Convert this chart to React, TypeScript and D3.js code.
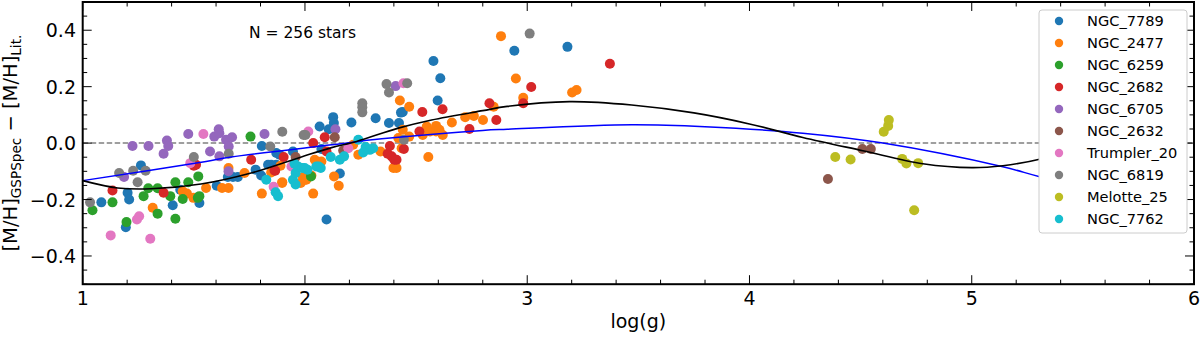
import React from "react";
import * as d3 from "d3";

// ---------- data ----------
const clusterNames = [
  "NGC_7789", "NGC_2477", "NGC_6259", "NGC_2682", "NGC_6705",
  "NGC_2632", "Trumpler_20", "NGC_6819", "Melotte_25", "NGC_7762",
];
const clusterColors = [
  "#1f77b4", "#ff7f0e", "#2ca02c", "#d62728", "#9467bd",
  "#8c564b", "#e377c2", "#7f7f7f", "#bcbd22", "#17becf",
];

// [log(g), [M/H]_GSPSpec - [M/H]_Lit]
const NGC_7789 = [
  [1.262, -0.079], [1.202, -0.176], [1.209, -0.2], [1.084, -0.21], [1.439, -0.165],
  [1.405, -0.22], [1.525, -0.212], [1.194, -0.298], [1.603, -0.151], [1.653, -0.12],
  [1.676, -0.12], [1.698, -0.12], [1.778, -0.094], [1.803, -0.115], [1.806, -0.01],
  [1.834, -0.077], [1.848, -0.077], [1.871, -0.077], [1.871, -0.035], [1.886, -0.041],
  [1.946, -0.03], [2.066, 0.059], [2.107, 0.049], [2.127, 0.092], [2.13, 0.071],
  [2.209, 0.073], [2.318, 0.088], [2.378, 0.071], [2.423, 0.071], [2.432, 0.108],
  [2.44, 0.11], [2.074, -0.021], [2.157, -0.108], [2.097, -0.271], [2.578, 0.291],
  [2.609, 0.23], [2.597, 0.151], [2.942, 0.327], [3.181, 0.341],
];
const NGC_2477 = [
  [1.315, -0.229], [1.45, -0.171], [1.469, -0.179], [1.498, -0.194], [1.555, -0.159],
  [1.627, -0.159], [1.656, -0.159], [1.656, -0.088], [1.728, -0.106], [1.806, -0.179],
  [1.848, -0.104], [1.898, -0.139], [1.89, -0.08], [1.897, -0.141], [1.981, -0.141],
  [1.991, -0.12], [1.999, -0.13], [2.029, -0.115], [2.006, -0.13], [2.044, -0.059],
  [2.074, -0.065], [2.037, -0.179], [2.131, -0.118], [2.152, -0.151], [2.217, -0.006],
  [2.24, -0.041], [2.34, -0.03], [2.398, -0.088], [2.412, -0.088], [2.42, 0.018],
  [2.427, 0.151], [2.469, 0.129], [2.435, -0.018], [2.44, 0.047], [2.469, 0.023],
  [2.53, 0.029], [2.548, 0.059], [2.563, 0.041], [2.59, 0.061], [2.59, 0.041],
  [2.605, 0.047], [2.62, 0.029], [2.555, -0.049], [2.661, 0.073], [2.721, 0.092],
  [2.76, 0.096], [2.801, 0.082], [2.849, 0.129], [2.882, 0.379], [2.949, 0.229],
  [2.982, 0.161], [3.202, 0.179], [3.222, 0.188],
];
const NGC_6259 = [
  [1.044, -0.238], [1.134, -0.21], [1.274, -0.188], [1.295, -0.16], [1.337, -0.16],
  [1.394, -0.188], [1.417, -0.139], [1.475, -0.139], [1.52, -0.118], [1.45, -0.198],
  [1.518, -0.194], [1.525, -0.188], [1.337, -0.25], [1.197, -0.28], [1.417, -0.268],
  [1.755, 0.023], [2.027, -0.118],
];
const NGC_2682 = [
  [1.134, -0.168], [1.364, -0.176], [1.5, -0.08], [1.51, -0.077], [1.758, -0.059],
  [1.866, -0.098], [1.904, -0.049], [2.037, 0.0], [2.089, 0.021], [2.097, -0.03],
  [1.863, -0.097], [2.372, -0.038], [2.382, -0.01], [2.39, -0.047], [2.402, -0.059],
  [2.412, -0.059], [2.445, -0.021], [2.515, 0.041], [2.528, 0.11], [2.619, 0.12],
  [2.74, 0.05], [2.83, 0.141], [2.861, 0.082], [3.018, 0.199], [2.982, 0.141],
  [3.372, 0.281],
];
const NGC_6705 = [
  [1.224, -0.01], [1.296, -0.01], [1.379, 0.009], [1.385, -0.01], [1.364, -0.038],
  [1.475, 0.032], [1.186, -0.12], [1.573, -0.03], [1.592, 0.023], [1.612, 0.049],
  [1.615, 0.035], [1.645, 0.012], [1.672, 0.021], [1.657, -0.012], [1.615, -0.047],
  [1.656, -0.1], [1.818, 0.032], [2.137, 0.049], [2.408, 0.202],
];
const NGC_2632 = [
  [1.958, -0.049], [2.134, 0.021], [2.172, -0.026], [4.353, -0.127], [4.508, -0.021],
  [4.546, -0.021],
];
const Trumpler_20 = [
  [1.126, -0.327], [1.304, -0.339], [1.244, -0.271], [1.254, -0.259], [1.484, -0.071],
  [1.543, 0.032], [1.939, -0.083], [1.859, -0.155], [2.015, 0.041], [2.195, -0.018],
  [2.443, 0.212],
];
const NGC_6819 = [
  [1.033, -0.21], [1.164, -0.106], [1.227, -0.098], [1.283, -0.098], [1.247, -0.139],
  [1.5, -0.049], [1.657, -0.038], [1.844, -0.012], [1.898, 0.04], [1.994, 0.029],
  [2.002, 0.029], [2.258, 0.141], [2.258, 0.127], [2.258, 0.109], [2.367, 0.209],
  [2.378, 0.179], [2.46, 0.212], [2.445, 0.012], [3.011, 0.388],
];
const Melotte_25 = [
  [4.386, -0.049], [4.455, -0.058], [4.604, 0.04], [4.624, 0.061], [4.627, 0.082],
  [4.687, -0.056], [4.706, -0.072], [4.759, -0.071], [4.741, -0.238],
];
const NGC_7762 = [
  [1.826, -0.13], [1.868, -0.174], [1.879, -0.188], [1.946, -0.13], [1.958, -0.147],
  [1.958, -0.106], [1.953, -0.073], [1.969, -0.083], [1.988, -0.088], [2.011, -0.094],
  [1.999, -0.088], [2.051, -0.083], [2.071, -0.088], [2.062, -0.083], [2.116, -0.049],
  [2.157, -0.059], [2.176, -0.047], [2.24, 0.012], [2.273, -0.014], [2.292, -0.024],
  [2.307, -0.018], [2.262, -0.033],
];
const clusterData = [
  NGC_7789, NGC_2477, NGC_6259, NGC_2682, NGC_6705,
  NGC_2632, Trumpler_20, NGC_6819, Melotte_25, NGC_7762,
];

// fitted curves
const blackFit = [
  [1.0, -0.133], [1.157, -0.159], [1.307, -0.162], [1.532, -0.145], [1.758, -0.106],
  [1.984, -0.049], [2.12, -0.016], [2.232, 0.006], [2.42, 0.053], [2.57, 0.082],
  [2.8, 0.115], [2.91, 0.13], [3.19, 0.147], [3.47, 0.135], [3.75, 0.107],
  [4.0, 0.068], [4.24, 0.02], [4.51, -0.027], [4.78, -0.073], [5.0, -0.087],
  [5.14, -0.08], [5.31, -0.056], [5.5, -0.01], [5.7, 0.06], [5.88, 0.14],
];
const blueFit = [
  [1.0, -0.133], [1.555, -0.065], [1.668, -0.049], [2.12, -0.006], [2.345, 0.015],
  [2.8, 0.045], [2.91, 0.049], [3.47, 0.065], [3.8, 0.058], [4.24, 0.035],
  [4.6, 0.0], [5.14, -0.084], [5.31, -0.12], [5.88, -0.23],
];

const xMajor = [1, 2, 3, 4, 5, 6];
const yMajor = [-0.4, -0.2, 0.0, 0.2, 0.4];
const nLabel = "N = 256 stars";

// ---------- layout ----------
const W = 1200, H = 341;
const L = 82.7, R = 1194, T = 2, B = 284.2;
const FONT = "DejaVu Sans, sans-serif";

const x = d3.scaleLinear().domain([1, 6]).range([L, R]);
const y = d3.scaleLinear().domain([-0.5, 0.5]).range([B, T]);

const xMinor = d3.range(1, 6.0001, 0.2).filter((v) => Math.abs(v - Math.round(v)) > 1e-6);
const yMinor = d3.range(-0.5, 0.5001, 0.05).filter((v) => Math.abs(v * 5 - Math.round(v * 5)) > 1e-6);

const fmt = (v: number) => {
  const s = Math.abs(v).toFixed(1);
  return v < -1e-9 ? "\u2212" + s : s;
};

export default function App() {
  const line = d3
    .line<number[]>()
    .x((d) => x(d[0]))
    .y((d) => y(d[1]))
    .curve(d3.curveCatmullRom.alpha(0.5));

  const majLen = 9, minLen = 4.5;
  const legX = 1039, legY = 10, legW = 148, legH = 223;

  return (
    <svg
      width={W}
      height={H}
      style={{ position: "absolute", left: 0, top: 0, background: "#fff" }}
      fontFamily={FONT}
    >
      <defs>
        <clipPath id="plot">
          <rect x={L} y={T} width={R - L} height={B - T} />
        </clipPath>
      </defs>
      <rect x={0} y={0} width={W} height={H} fill="#fff" />

      <g clipPath="url(#plot)">
        <line x1={L} x2={R} y1={y(0)} y2={y(0)} stroke="#808080" strokeWidth={1.5} strokeDasharray="5.5,2.5" />
        {clusterData.map((pts, ci) => (
          <g key={ci} fill={clusterColors[ci]}>
            {pts.map((p, i) => (
              <circle key={i} cx={x(p[0])} cy={y(p[1])} r={5} />
            ))}
          </g>
        ))}
        <path d={line(blueFit) || ""} fill="none" stroke="#0000ff" strokeWidth={1.5} />
        <path d={line(blackFit) || ""} fill="none" stroke="#000" strokeWidth={1.6} />
      </g>

      <g stroke="#000" strokeWidth={1}>
        {xMajor.map((v) => (
          <g key={"xM" + v}>
            <line x1={x(v)} x2={x(v)} y1={B} y2={B - majLen} />
            <line x1={x(v)} x2={x(v)} y1={T} y2={T + majLen} />
          </g>
        ))}
        {xMinor.map((v, i) => (
          <g key={"xm" + i}>
            <line x1={x(v)} x2={x(v)} y1={B} y2={B - minLen} />
            <line x1={x(v)} x2={x(v)} y1={T} y2={T + minLen} />
          </g>
        ))}
        {yMajor.map((v) => (
          <g key={"yM" + v}>
            <line x1={L} x2={L + majLen} y1={y(v)} y2={y(v)} />
            <line x1={R} x2={R - majLen} y1={y(v)} y2={y(v)} />
          </g>
        ))}
        {yMinor.map((v, i) => (
          <g key={"ym" + i}>
            <line x1={L} x2={L + minLen} y1={y(v)} y2={y(v)} />
            <line x1={R} x2={R - minLen} y1={y(v)} y2={y(v)} />
          </g>
        ))}
      </g>

      <rect x={legX} y={legY} width={legW} height={legH} rx={3} fill="#fff" stroke="#cccccc" strokeWidth={1} />
      {clusterNames.map((n, i) => (
        <g key={n}>
          <circle cx={1059} cy={21 + i * 22} r={4.2} fill={clusterColors[i]} />
          <text x={1087} y={26.3 + i * 22} fontSize={14.6} fill="#000">
            {n}
          </text>
        </g>
      ))}

      <rect x={L} y={T} width={R - L} height={B - T} fill="none" stroke="#000" strokeWidth={2} />

      {xMajor.map((v) => (
        <text key={"xl" + v} x={x(v)} y={305} fontSize={19} textAnchor="middle" fill="#000">
          {String(v)}
        </text>
      ))}
      {yMajor.map((v) => (
        <text key={"yl" + v} x={76} y={y(v) + 7} fontSize={19} textAnchor="end" fill="#000">
          {fmt(v)}
        </text>
      ))}

      <text x={(L + R) / 2} y={328} fontSize={19} textAnchor="middle" fill="#000">
        log(g)
      </text>
      <text transform={`translate(17,${(T + B) / 2}) rotate(-90)`} textAnchor="middle" fontSize={19.5} fill="#000">
        <tspan>[M/H]</tspan>
        <tspan fontSize={13.6} dy={4}>GSPSpec</tspan>
        <tspan dy={-4}>{" \u2212 [M/H]"}</tspan>
        <tspan fontSize={13.6} dy={4}>Lit.</tspan>
      </text>

      <text x={249} y={38} fontSize={15.5} fill="#000">
        {nLabel}
      </text>
    </svg>
  );
}
